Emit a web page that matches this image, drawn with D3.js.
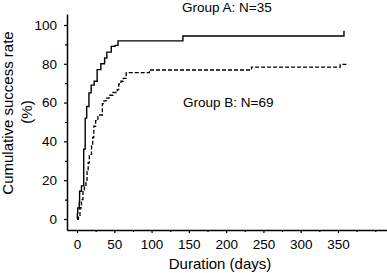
<!DOCTYPE html>
<html><head><meta charset="utf-8">
<script src="https://cdn.jsdelivr.net/npm/d3@7"></script>
<style>body{margin:0;background:#fff}svg{display:block}text{font-family:"Liberation Sans",Arial,sans-serif;fill:#000}</style>
</head><body>
<script>
// Kaplan-Meier style step data (day, cumulative %)
const groupADays   = [0, 0.5, 1, 3, 3.5, 6, 9, 11, 13, 16, 19, 23, 27, 32, 37, 40, 46, 51, 55, 142, 358];
const groupAValues = [0, 2.9, 5.7, 8.6, 14.3, 17.1, 36, 52, 58, 65, 69, 71, 77, 80, 83, 86, 89, 89.5, 91.8, 94.3, 97];
const groupBDays   = [0, 2, 4, 6, 8, 10, 12, 13.5, 15, 16.5, 19.5, 21, 22.5, 25, 28, 34, 36, 39, 43, 48, 54, 56, 59, 62, 66, 97, 234, 353, 362];
const groupBValues = [0, 1.5, 5.8, 10, 14.5, 17.4, 20, 24.6, 29, 33.3, 37.7, 42, 47.8, 50.7, 53.6, 59.4, 60.9, 62.3, 63.8, 65.2, 66.7, 69.6, 71, 72.5, 75.4, 76.8, 78.3, 79.7, 79.7];
const xMajorTicks = [0, 50, 100, 150, 200, 250, 300, 350];
const xMinorTicks = [25, 75, 125, 175, 225, 275, 325, 375, 400];
const yMajorTicks = [0, 20, 40, 60, 80, 100];
const yMinorTicks = [10, 30, 50, 70, 90];
const labelA = "Group A: N=35";
const labelB = "Group B: N=69";
const xTitle = "Duration (days)";
const yTitle1 = "Cumulative  success rate";
const yTitle2 = "(%)";

const W = 387, H = 273;
const svg = d3.select("body").append("svg").attr("width", W).attr("height", H);

const base = d3.scaleLinear().domain([0, 350]).range([77, 338]);
const x = d3.scaleLinear().domain([base.invert(67), base.invert(387)]).range([67, 387]);
const ybase = d3.scaleLinear().domain([0, 100]).range([219, 25]);
const y = d3.scaleLinear().domain([ybase.invert(230), ybase.invert(14)]).range([230, 14]);

// Axes
const gx = svg.append("g").attr("transform", "translate(0,230)");
gx.call(d3.axisBottom(x).tickValues(xMajorTicks).tickSize(3).tickSizeOuter(0).tickPadding(6));
const gxm = svg.append("g").attr("transform", "translate(0,230)");
gxm.call(d3.axisBottom(x).tickValues(xMinorTicks).tickSize(2).tickSizeOuter(0).tickFormat(""));
gxm.select(".domain").remove();

const gy = svg.append("g").attr("transform", "translate(67,0)");
gy.call(d3.axisLeft(y).tickValues(yMajorTicks).tickSize(3).tickSizeOuter(0).tickPadding(7));
const gym = svg.append("g").attr("transform", "translate(67,0)");
gym.call(d3.axisLeft(y).tickValues(yMinorTicks).tickSize(2).tickSizeOuter(0).tickFormat(""));
gym.select(".domain").remove();

svg.selectAll(".domain").attr("stroke", "#000").attr("stroke-width", 1.5);
svg.selectAll(".tick line").attr("stroke", "#000").attr("stroke-width", 1.2);
svg.selectAll(".tick text").attr("font-size", 13.5).attr("font-family", "Liberation Sans, Arial, sans-serif").attr("fill", "#000");

// Lines
const line = d3.line().curve(d3.curveStepAfter).x(d => x(d[0])).y(d => y(d[1]));
const dataA = groupADays.map((d, i) => [d, groupAValues[i]]);
const dataB = groupBDays.map((d, i) => [d, groupBValues[i]]);
svg.append("path").datum(dataB).attr("d", line).attr("fill", "none").attr("stroke", "#000")
  .attr("stroke-width", 1.3).attr("stroke-dasharray", "4,2");
svg.append("path").datum(dataA).attr("d", line).attr("fill", "none").attr("stroke", "#000")
  .attr("stroke-width", 1.4);

// Labels
svg.append("text").attr("x", 182).attr("y", 12).attr("font-size", 13.5).text(labelA);
svg.append("text").attr("x", 183).attr("y", 107).attr("font-size", 13.5).text(labelB);
svg.append("text").attr("x", 220).attr("y", 269).attr("text-anchor", "middle").attr("font-size", 15).text(xTitle);
svg.append("text").attr("transform", "translate(13,113) rotate(-90)").attr("text-anchor", "middle").attr("font-size", 15).text(yTitle1);
svg.append("text").attr("transform", "translate(32,112) rotate(-90)").attr("text-anchor", "middle").attr("font-size", 15).text(yTitle2);
</script>
</body></html>
